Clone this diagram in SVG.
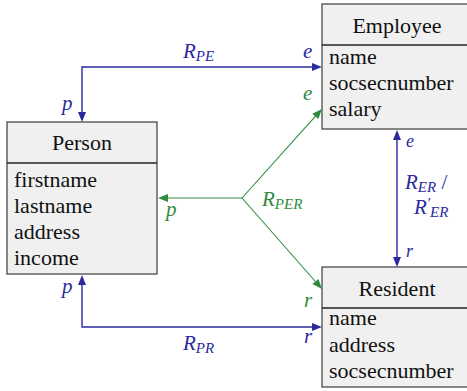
<svg xmlns="http://www.w3.org/2000/svg" width="467" height="391" viewBox="0 0 467 391">
  <g fill="#f0f0f0" stroke="#4a4a4a" stroke-width="1.3">
    <rect x="322" y="4" width="150" height="125"/>
    <rect x="7" y="122" width="150" height="152"/>
    <rect x="322" y="267" width="150" height="120"/>
    <path d="M322,45 H472 M7,163 H157 M322,308 H472" stroke="#222" fill="none"/>
  </g>

  <g font-size="22" fill="#111">
    <g id="employee">
      <text font-family="Liberation Serif" x="397" y="33" text-anchor="middle">Employee</text>
      <text font-family="Liberation Serif" x="329" y="64">name</text>
      <text font-family="Liberation Serif" x="329" y="90">socsecnumber</text>
      <text font-family="Liberation Serif" x="329" y="116">salary</text>
    </g>
    <g id="person">
      <text font-family="Liberation Serif" x="82" y="150" text-anchor="middle">Person</text>
      <text font-family="Liberation Serif" x="14" y="187">firstname</text>
      <text font-family="Liberation Serif" x="14" y="213">lastname</text>
      <text font-family="Liberation Serif" x="14" y="239">address</text>
      <text font-family="Liberation Serif" x="14" y="265">income</text>
    </g>
    <g id="resident">
      <text font-family="Liberation Serif" x="397" y="296" text-anchor="middle">Resident</text>
      <text font-family="Liberation Serif" x="329" y="325">name</text>
      <text font-family="Liberation Serif" x="329" y="352">address</text>
      <text font-family="Liberation Serif" x="329" y="378">socsecnumber</text>
    </g>
  </g>

  <g id="connectors">
    <g stroke="#2a2a9e" stroke-width="1.4" fill="none">
      <path d="M82,113 L82,67 L313,67"/>
      <path d="M82,284 L82,327 L313,327"/>
      <path d="M397,139 L397,258"/>
    </g>
    <g fill="#2a2a9e">
      <polygon points="312,63 322,67 312,71"/>
      <polygon points="78,112 82,122 86,112"/>
      <polygon points="78,285 82,275 86,285"/>
      <polygon points="312,323 322,327 312,331"/>
      <polygon points="393,140 397,130 401,140"/>
      <polygon points="393,257 397,267 401,257"/>
    </g>
    <g stroke="#2e8b3e" stroke-width="1.1" fill="none">
      <path d="M242,198 L167,198"/>
      <path d="M242,198 L315.3,116.4"/>
      <path d="M242,198 L315.4,281.5"/>
    </g>
    <g fill="#2e8b3e">
      <polygon points="168,194 158,198 168,202"/>
      <polygon points="322,109 318.3,119.1 312.3,113.8"/>
      <polygon points="322,289 312.4,284.1 318.4,278.9"/>
    </g>

    <g font-style="italic" font-size="21" fill="#2a2a9e">
      <text font-family="Liberation Serif" x="183" y="58">R<tspan font-size="15" dy="3">PE</tspan></text>
      <text font-family="Liberation Serif" x="303" y="58">e</text>
      <text font-family="Liberation Serif" x="62" y="110">p</text>
      <text font-family="Liberation Serif" x="183" y="350">R<tspan font-size="15" dy="3">PR</tspan></text>
      <text font-family="Liberation Serif" x="304" y="343">r</text>
      <text font-family="Liberation Serif" x="62" y="293">p</text>
      <text font-family="Liberation Serif" x="406" y="147" font-size="18">e</text>
      <text font-family="Liberation Serif" x="405" y="189">R<tspan font-size="15" dy="3">ER</tspan><tspan dy="-3" font-style="normal">  /</tspan></text>
      <text font-family="Liberation Serif" x="414" y="214">R<tspan font-size="15" dy="-6">'</tspan><tspan font-size="15" dy="9">ER</tspan></text>
      <text font-family="Liberation Serif" x="406" y="257" font-size="18">r</text>
    </g>
    <g font-style="italic" font-size="21" fill="#2e8b3e">
      <text font-family="Liberation Serif" x="262" y="206">R<tspan font-size="15" dy="3">PER</tspan></text>
      <text font-family="Liberation Serif" x="303" y="100">e</text>
      <text font-family="Liberation Serif" x="166" y="216">p</text>
      <text font-family="Liberation Serif" x="304" y="307">r</text>
    </g>
  </g>
</svg>
